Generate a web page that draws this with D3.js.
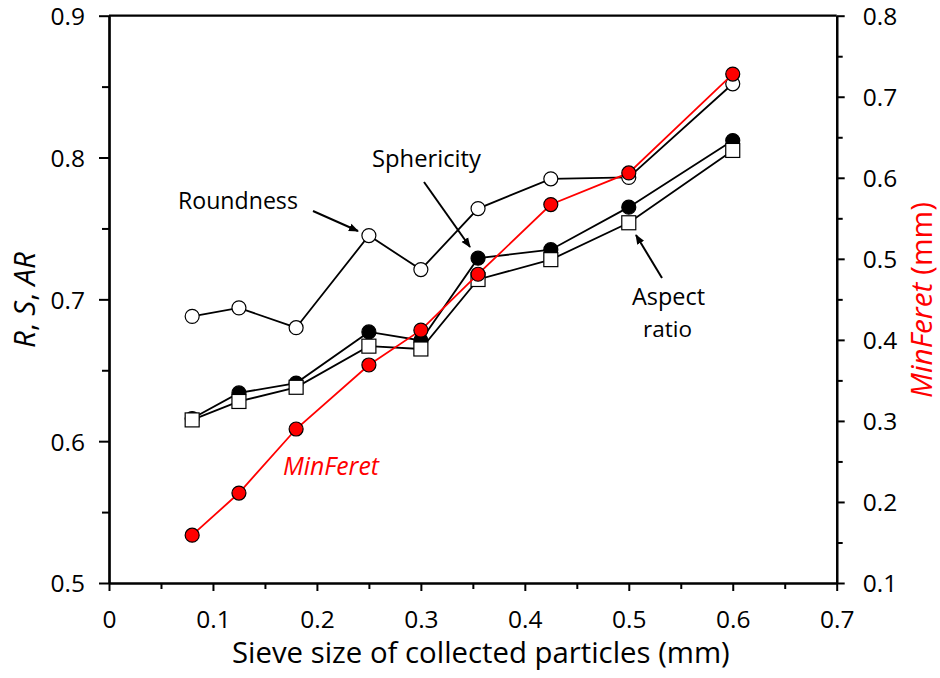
<!DOCTYPE html>
<html><head><meta charset="utf-8">
<script src="https://cdn.jsdelivr.net/npm/d3@7"></script>
<style>
body{margin:0;background:#fff;}
svg text{font-family:"Open Sans",sans-serif;}
</style></head>
<body><svg id="c" width="940" height="678"></svg>
<script>
const sieve = [0.08, 0.125, 0.18, 0.25, 0.3, 0.355, 0.425, 0.5, 0.6];
const roundness = [0.688, 0.694, 0.680, 0.745, 0.721, 0.764, 0.785, 0.786, 0.852];
const sphericity = [0.616, 0.634, 0.641, 0.677, 0.671, 0.729, 0.735, 0.765, 0.812];
const aspectRatio = [0.615, 0.628, 0.638, 0.667, 0.665, 0.714, 0.728, 0.754, 0.805];
const minFeret = [0.159, 0.211, 0.290, 0.369, 0.412, 0.481, 0.567, 0.606, 0.728];
const xTicks = [0, 0.1, 0.2, 0.3, 0.4, 0.5, 0.6, 0.7];
const yLeftTicks = [0.5, 0.6, 0.7, 0.8, 0.9];
const yRightTicks = [0.1, 0.2, 0.3, 0.4, 0.5, 0.6, 0.7, 0.8];

const svg = d3.select("#c");
const L = 109, R = 836.7, T = 15.7, B = 583;
const x = d3.scaleLinear().domain([0, 0.7]).range([L, R]);
const yL = d3.scaleLinear().domain([0.5, 0.9]).range([B, T]);
const yR = d3.scaleLinear().domain([0.1, 0.8]).range([B, T]);

function fit(sel, w){
  const n = sel.node(); let fs = parseFloat(sel.attr("font-size"));
  const cur = n.getComputedTextLength(); sel.attr("font-size", fs * w / cur);
}

// frame top line
svg.append("line").attr("x1", L).attr("x2", R).attr("y1", T).attr("y2", T)
  .attr("stroke", "#000").attr("stroke-width", 2.2);

// axes
const tickFont = 24.5;
const xAxis = svg.append("g").attr("transform", `translate(0,${B})`)
  .call(d3.axisBottom(x).tickValues(xTicks).tickFormat(d3.format("")).tickSize(8).tickSizeOuter(0));
const xMinor = svg.append("g").attr("transform", `translate(0,${B})`)
  .call(d3.axisBottom(x).tickValues(d3.range(0.05, 0.7, 0.1)).tickFormat("").tickSize(6).tickSizeOuter(0));
const yAxisL = svg.append("g").attr("transform", `translate(${L},0)`)
  .call(d3.axisLeft(yL).tickValues(yLeftTicks).tickFormat(d3.format(".1f")).tickSize(10).tickSizeOuter(0));
const yMinorL = svg.append("g").attr("transform", `translate(${L},0)`)
  .call(d3.axisLeft(yL).tickValues(d3.range(0.55, 0.9, 0.1)).tickFormat("").tickSize(7).tickSizeOuter(0));
const yAxisR = svg.append("g").attr("transform", `translate(${R},0)`)
  .call(d3.axisRight(yR).tickValues(yRightTicks).tickFormat(d3.format(".1f")).tickSize(8).tickSizeOuter(0));
const yMinorR = svg.append("g").attr("transform", `translate(${R},0)`)
  .call(d3.axisRight(yR).tickValues(d3.range(0.15, 0.8, 0.1)).tickFormat("").tickSize(6).tickSizeOuter(0));
[xAxis, xMinor, yAxisL, yMinorL, yAxisR, yMinorR].forEach(g => {
  g.attr("font-size", null).attr("font-family", null);
  g.selectAll("path").attr("stroke", "#000").attr("stroke-width", 2.2);
  g.selectAll("line").attr("stroke", "#000").attr("stroke-width", 2);
  g.selectAll("text").attr("font-size", tickFont).attr("fill", "#000")
    .style("font-family", "'Open Sans',sans-serif");
});
xAxis.selectAll("text").attr("dy", "0").attr("y", 45);
yAxisL.selectAll("text").attr("x", -24).attr("dy", "0.36em");
yAxisR.selectAll("text").attr("x", 26).attr("dy", "0.36em");

// series
function series(vals, yScale, color, shape, fill){
  const pts = sieve.map((s, i) => [x(s), yScale(vals[i])]);
  svg.append("path").attr("d", d3.line()(pts)).attr("fill", "none")
    .attr("stroke", color).attr("stroke-width", 1.8);
  if (shape === "circle") {
    svg.append("g").selectAll("circle").data(pts).join("circle")
      .attr("cx", d => d[0]).attr("cy", d => d[1]).attr("r", 7)
      .attr("fill", fill).attr("stroke", "#000").attr("stroke-width", 1.2);
  } else {
    svg.append("g").selectAll("rect").data(pts).join("rect")
      .attr("x", d => d[0] - 7).attr("y", d => d[1] - 7).attr("width", 14).attr("height", 14)
      .attr("fill", fill).attr("stroke", "#000").attr("stroke-width", 1.2);
  }
}
series(roundness, yL, "#000", "circle", "#fff");
series(sphericity, yL, "#000", "circle", "#000");
series(aspectRatio, yL, "#000", "square", "#fff");
series(minFeret, yR, "#ff0000", "circle", "#ff0000");

// arrows
svg.append("defs").append("marker").attr("id", "ah").attr("viewBox", "0 0 10 10")
  .attr("refX", 9).attr("refY", 5).attr("markerWidth", 5).attr("markerHeight", 5)
  .attr("orient", "auto").append("path").attr("d", "M0,1 L10,5 L0,9 Z").attr("fill", "#000");
const arrows = [[313, 211, 358, 231], [424, 182, 470, 247], [662, 278, 636, 235]];
arrows.forEach(a => svg.append("line").attr("x1", a[0]).attr("y1", a[1]).attr("x2", a[2]).attr("y2", a[3])
  .attr("stroke", "#000").attr("stroke-width", 2).attr("marker-end", "url(#ah)"));

// annotations
function label(txt, x0, w, yb, color, italic){
  const t = svg.append("text").attr("x", x0).attr("y", yb).attr("font-size", 22)
    .attr("fill", color).style("font-style", italic ? "italic" : "normal").text(txt);
  fit(t, w); return t;
}
label("Roundness", 178, 120, 209, "#000", false);
label("Sphericity", 372, 109, 167, "#000", false);
label("Aspect", 632, 73, 305, "#000", false);
label("ratio", 643, 49, 337, "#000", false);
label("MinFeret", 283, 96, 475, "#ff0000", true);

// axis titles
label("Sieve size of collected particles (mm)", 232, 498, 663, "#000", false);
const lt = svg.append("text").attr("transform", "translate(35,300) rotate(-90)")
  .attr("text-anchor", "middle").attr("font-size", 24);
lt.append("tspan").style("font-style", "italic").text("R");
lt.append("tspan").text(", ");
lt.append("tspan").style("font-style", "italic").text("S");
lt.append("tspan").text(", ");
lt.append("tspan").style("font-style", "italic").text("AR");
fit(lt, 96);
const rt = svg.append("text").attr("transform", "translate(932,300) rotate(-90)")
  .attr("text-anchor", "middle").attr("font-size", 24).attr("fill", "#ff0000");
rt.append("tspan").style("font-style", "italic").text("MinFeret");
rt.append("tspan").text(" (mm)");
fit(rt, 196);
</script></body></html>
